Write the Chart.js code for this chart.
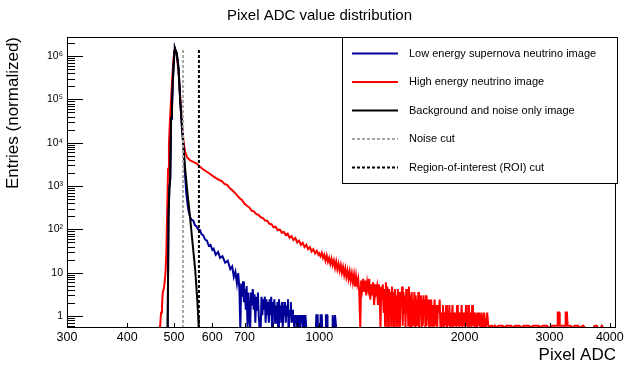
<!DOCTYPE html>
<html>
<head>
<meta charset="utf-8">
<script src="https://cdn.jsdelivr.net/npm/chart.js@4/dist/chart.umd.min.js"></script>
<style>
  html, body { margin: 0; padding: 0; background: #fff; }
</style>
</head>
<body>
<canvas id="c" width="639" height="368"></canvas>
<script>
// values (Pixel ADC, normalized entries); 0 = empty bin
const redPts = [
  [300,0],[466,0],[468,0.6],[470,1.2],[472,1.8],[474,3.6],[476,4.2],[478,6],[480,10],[482,30],
  [484,300],[486,2500],[488,9000],[490,2.8e4],[493,1e5],[496,3.5e5],[499,9e5],[502,1.5e6],
  [505,1.25e6],[508,8e5],[511,4e5],[514,1.6e5],[517,6e4],[520,2.4e4],[523,1.1e4],[527,6200],
  [532,4600],[540,3900],[548,3600],[557,3300],[566,2800],[575,2400],[590,2000],[604,1650],
  [612,1500],[620,1380],[628,1300],[636,1120],[644,1060],[652,900],[660,800],[668,700],[676,610],
  [684,520],[692,470],[700,390],[708,350],[716,320],[724,270],[732,260],[740,225],[748,218],
  [756,190],[764,182],[772,160],[780,158],[788,135],[796,132],[804,112],[812,115],[820,96],
  [828,100],[836,84],[844,88],[852,74],[860,80],[868,64],[876,70],[884,57],[892,63],[900,50],
  [908,55],[916,44],[924,49],[932,39],[940,44],[948,35],[956,39],[964,31],[972,35],[980,28],
  [988,32],[996,26],[1000,28],[1006,24],[1012,29],[1018,22],[1024,26],[1030,19],[1036,25],
  [1042,18],[1048,22],[1054,16],[1060,21],[1066,15],[1072,19],[1078,13],[1084,18],[1090,12],
  [1096,16],[1102,11],[1108,15],[1114,10],[1120,13.5],[1126,9],[1132,12.5],[1138,8],[1144,11],
  [1150,7.2],[1156,10.5],[1162,6.6],[1168,9.6],[1174,6],[1180,9],[1186,4.8],[1192,8.4],[1198,5.4],
  [1204,7.2],[1210,3.6],[1216,0],[1221,6.6],[1227,4.2],[1233,7.2],[1239,3.6],[1245,6.6],[1251,3],
  [1257,6],[1263,4.2],[1269,7.2],[1275,2.4],[1281,5.4],[1287,3],[1293,6],[1299,1.8],[1305,5.4],
  [1311,3.6],[1317,4.8],[1323,1.8],[1329,5.4],[1334,3],[1339,0],[1344,4.8],[1349,2.4],[1354,5.4],
  [1359,1.2],[1364,4.2],[1369,0.6],[1374,6],[1379,1.8],[1384,4.8],[1389,0],[1394,4.2],[1399,2.4],
  [1404,3.6],[1409,0.6],[1414,4.8],[1419,1.2],[1424,3.6],[1429,0],[1434,4.2],[1439,1.8],[1444,3],
  [1449,0.6],[1454,4.2],[1459,1.2],[1464,3.6],[1469,0],[1474,3],[1479,1.8],[1484,4.8],[1489,0.6],
  [1494,3.6],[1499,1.2],[1504,3],[1509,0],[1514,4.2],[1519,1.2],[1524,2.4],[1529,0.6],[1534,4.8],
  [1539,1.2],[1544,3],[1549,0],[1554,3.6],[1559,1.2],[1564,2.4],[1569,0.6],[1574,3.6],[1579,0],
  [1584,3],[1589,1.2],[1594,2.4],[1599,0.6],[1604,3.6],[1609,0],[1614,2.4],[1619,1.2],[1624,3],
  [1629,0],[1634,2.4],[1639,0.6],[1644,3],[1649,1.2],[1654,2.4],[1659,0],[1664,3],[1669,0.6],
  [1674,2.4],[1679,1.2],[1684,1.8],[1689,0],[1694,2.4],[1699,0.6],[1706,2.4],[1713,0.6],[1720,1.8],
  [1727,0],[1734,2.4],[1741,0.6],[1748,1.8],[1755,0],[1762,1.8],[1769,1.2],[1776,2.4],[1783,0],
  [1790,1.2],[1797,0.6],[1804,1.8],[1811,0],[1818,1.2],[1825,0.6],[1832,1.8],[1839,0],[1846,1.2],
  [1853,0.6],[1860,1.8],[1867,0],[1874,1.2],[1881,0.6],[1888,1.8],[1895,0],[1902,1.2],[1909,0.6],
  [1916,1.2],[1923,0],[1930,1.8],[1937,0.6],[1944,1.2],[1951,0],[1958,1.2],[1965,0.6],[1972,1.8],
  [1979,0],[1986,1.2],[1993,0.6],[2000,1.2],[2007,0],[2014,1.8],[2021,0.6],[2028,1.2],[2035,0],
  [2042,1.8],[2049,0.6],[2058,1.2],[2066,0],[2074,1.8],[2082,0.6],[2090,1.2],[2098,0],[2106,1.2],
  [2114,0.6],[2122,0],[2130,1.2],[2138,0.6],[2146,1.2],[2154,0],[2162,0.6],[2170,1.2],[2178,0],
  [2186,0.6],[2196,1.2],[2206,0],[2216,0.6],[2228,1.2],[2240,0.6],[2252,0],[2264,0.6],[2280,0.6],
  [2292,0],[2310,0.6],[2325,0],[2350,0.6],[2400,0.6],[2420,0],[2440,0.6],[2500,0.6],[2520,0],
  [2545,0.6],[2600,0.6],[2625,0],[2650,0.6],[2720,0.6],[2745,0],[2770,0.6],[2850,0.6],[2880,0],
  [2900,0.6],[2960,0.6],[2990,0],[3030,0.6],[3110,0.6],[3120,1.2],[3140,1.2],[3150,0.6],[3230,0.6],
  [3240,1.2],[3260,1.2],[3270,0.6],[3320,0.6],[3350,0],[3380,0.6],[3440,0.6],[3470,0],[3520,0.6],
  [3560,0],[3700,0],[3720,0.6],[3760,0.6],[3780,0],[3830,0],[3850,0.6],[3880,0],[4120,0]
];
const bluePts = [
  [300,0],[485,0],[487,200],[489,900],[491,1500],[493,3.6e4],[495,6e4],[497,2.5e5],[499,6e5],
  [501,1.3e6],[502,1.5e6],[504,1.3e6],[506,1.2e6],[508,9e5],[511,5e5],[515,9e4],[519,2.5e4],
  [523,8000],[527,1800],[530,700],[533,400],[536,260],[540,190],[544,165],[548,160],[552,125],
  [556,118],[561,100],[566,97],[570,78],[575,72],[580,58],[585,55],[590,42],[595,44],[600,34],
  [604,36],[610,26],[617,30],[623,22],[630,24],[638,17],[646,19],[654,12],[660,14],[665,8],
  [670,10.5],[675,5.6],[679,9.8],[683,4.2],[686,0],[689,5.6],[692,2.8],[695,6.3],[698,2.1],
  [701,4.2],[704,1.4],[707,4.9],[710,0],[713,3.5],[716,1.05],[719,0],[722,3.5],[725,1.75],
  [728,4.2],[731,1.4],[734,3.2],[737,0.7],[740,2.8],[743,1.4],[746,3.5],[749,1.05],[752,0],
  [756,0],[759,2.8],[762,1.05],[765,2.45],[768,1.4],[771,2.8],[774,0.7],[777,2.45],[780,1.05],
  [783,2.1],[786,0.7],[789,2.45],[792,1.05],[795,2.8],[798,0],[801,2.1],[804,1.05],[807,2.45],
  [810,0.7],[813,1.75],[816,1.05],[819,2.1],[822,0.35],[825,2.45],[828,1.05],[831,1.75],[834,0.7],
  [837,2.1],[840,0],[843,1.75],[846,1.05],[849,2.1],[852,0.7],[855,1.75],[858,1.05],[861,2.45],
  [864,0.35],[867,1.4],[870,1.05],[873,2.1],[876,0.7],[879,1.4],[882,0.7],[885,1.05],[888,0.35],
  [891,1.05],[894,0.7],[897,1.05],[900,0],[903,1.05],[906,0.7],[909,1.05],[912,0],[915,1.05],
  [918,0.7],[921,1.05],[924,0],[928,1.05],[932,0.35],[936,1.05],[940,0],[984,0],[986,1.05],
  [992,1.05],[994,0],[1004,0],[1006,1.05],[1012,1.05],[1014,0],[1030,0],[1032,1.05],[1038,1.05],
  [1040,0],[1064,0],[1066,1.05],[1070,0],[1076,0],[1078,1.05],[1082,1.05],[1084,0],[4120,0]
];
const blackPts = [
  [300,0],[485,0],[487,200],[489,900],[491,1500],[493,3.6e4],[495,6e4],[497,2.5e5],[499,6e5],
  [501,1.3e6],[502,1.5e6],[504,1.3e6],[506,1.2e6],[508,9e5],[511,5e5],[515,9e4],[519,2.5e4],
  [523,8000],[527,2600],[533,700],[540,180],[546,50],[550,22],[553,12],[556,5],[559,2.1],
  [561,1],[562,0.6],[563,0],[4120,0]
];
const noiseCut = 522;
const roiCut = 563;
const cutTop = 1.45e6;

const xTickValues = [300, 400, 500, 600, 700, 800, 900, 1000, 2000, 3000, 4000];
const xTickLabels = ['300', '400', '500', '600', '700', '', '', '1000', '2000', '3000', '4000'];
const yTickValues = [1, 10, 100, 1000, 10000, 100000, 1000000];
const yTickLabels = ['1', '10', '10\u00b2', '10\u00b3', '10\u2074', '10\u2075', '10\u2076'];

const X_MIN = 300, X_MAX = 4120;
const Y_MIN = 0.53, Y_MAX = 2.75e6;
const FONT = "'Liberation Sans', Arial, Helvetica, sans-serif";

// empty bins sit on the bottom of the frame, like ROOT draws them
const toXY = pts => pts.map(p => ({ x: p[0], y: p[1] > 0 ? p[1] : Y_MIN }));

const frameTicks = {
  id: 'frameTicks',
  afterDatasetsDraw(chart) {
    const { ctx, chartArea: a, scales: { x, y } } = chart;
    ctx.save();
    ctx.strokeStyle = '#000';
    ctx.lineWidth = 1;
    ctx.beginPath();
    xTickValues.forEach(v => {
      const px = Math.round(x.getPixelForValue(v)) + 0.5;
      if (px <= a.left + 1 || px >= a.right - 1) return;
      ctx.moveTo(px, a.bottom);
      ctx.lineTo(px, a.bottom - 5);
    });
    for (let d = 0.1; d <= 1e6; d *= 10) {
      for (let m = 1; m <= 9; m++) {
        const v = m * d;
        if (v < Y_MIN || v > Y_MAX) continue;
        const py = Math.round(y.getPixelForValue(v)) + 0.5;
        ctx.moveTo(a.left, py);
        ctx.lineTo(a.left + (m === 1 ? 16 : 8), py);
      }
    }
    ctx.stroke();
    ctx.strokeRect(a.left + 0.5, a.top + 0.5, a.right - a.left - 1, a.bottom - a.top - 1);
    ctx.restore();
  }
};

const legendBox = {
  id: 'legendBox',
  afterDraw(chart) {
    const { ctx } = chart;
    ctx.save();
    ctx.fillStyle = '#fff';
    ctx.fillRect(342.5, 37.5, 275, 146);
    ctx.strokeStyle = '#000';
    ctx.lineWidth = 1;
    ctx.strokeRect(342.5, 37.5, 275, 146);
    ctx.font = '11px ' + FONT;
    ctx.textBaseline = 'middle';
    chart.data.datasets.forEach((ds, i) => {
      const yy = 53.5 + i * 28.5;
      ctx.strokeStyle = ds.borderColor;
      ctx.lineWidth = ds.borderWidth;
      ctx.setLineDash(ds.borderDash || []);
      ctx.beginPath();
      ctx.moveTo(352, yy);
      ctx.lineTo(398, yy);
      ctx.stroke();
      ctx.setLineDash([]);
      ctx.fillStyle = '#000';
      ctx.fillText(ds.label, 409, yy);
    });
    ctx.restore();
  }
};

new Chart(document.getElementById('c'), {
  type: 'line',
  data: {
    datasets: [
      { label: 'Low energy supernova neutrino image', data: toXY(bluePts), borderColor: '#000099', borderWidth: 2, order: 3 },
      { label: 'High energy neutrino image', data: toXY(redPts), borderColor: '#ff0000', borderWidth: 2, order: 4 },
      { label: 'Background and noise only image', data: toXY(blackPts), borderColor: '#000000', borderWidth: 2, order: 2 },
      { label: 'Noise cut', data: [{ x: noiseCut, y: Y_MIN }, { x: noiseCut, y: cutTop }], borderColor: '#a6a6a6', borderWidth: 2, borderDash: [3, 2], order: 1 },
      { label: 'Region-of-interest (ROI) cut', data: [{ x: roiCut, y: Y_MIN }, { x: roiCut, y: cutTop }], borderColor: '#000000', borderWidth: 2, borderDash: [3, 2], order: 0 }
    ]
  },
  options: {
    responsive: false,
    animation: false,
    devicePixelRatio: 1,
    layout: { padding: 0 },
    elements: { point: { radius: 0 }, line: { tension: 0 } },
    plugins: {
      legend: { display: false },
      tooltip: { enabled: false },
      title: {
        display: true,
        text: 'Pixel ADC value distribution',
        color: '#000',
        font: { family: FONT, size: 15, weight: 'normal' },
        padding: { top: 7, bottom: 12 }
      }
    },
    scales: {
      x: {
        type: 'logarithmic',
        min: X_MIN,
        max: X_MAX,
        bounds: 'data',
        grid: { display: false, drawTicks: false },
        border: { display: false },
        afterBuildTicks: s => { s.ticks = xTickValues.map(v => ({ value: v })); },
        afterFit: s => { s.height = 40; },
        ticks: {
          autoSkip: false,
          maxRotation: 0,
          padding: 2,
          color: '#000',
          font: { family: FONT, size: 12.5 },
          callback: (v, i) => xTickLabels[i]
        },
        title: {
          display: true,
          text: 'Pixel ADC',
          align: 'end',
          color: '#000',
          font: { family: FONT, size: 17 },
          padding: { top: 0, bottom: 2 }
        }
      },
      y: {
        type: 'logarithmic',
        min: Y_MIN,
        max: Y_MAX,
        bounds: 'data',
        grid: { display: false, drawTicks: false },
        border: { display: false },
        afterBuildTicks: s => { s.ticks = yTickValues.map(v => ({ value: v })); },
        afterFit: s => { s.width = 67; },
        ticks: {
          autoSkip: false,
          padding: 4,
          color: '#000',
          font: { family: FONT, size: 10.5 },
          callback: (v, i) => yTickLabels[i]
        },
        title: {
          display: true,
          text: 'Entries (normalized)',
          align: 'end',
          color: '#000',
          font: { family: FONT, size: 17 },
          padding: { top: 3, bottom: 0 }
        }
      },
      // empty right margin, so the title stays centred on the whole canvas
      yRight: {
        type: 'linear',
        position: 'right',
        min: 0,
        max: 1,
        grid: { display: false, drawTicks: false },
        border: { display: false },
        ticks: { display: false },
        afterFit: s => { s.width = 23; }
      }
    }
  },
  plugins: [frameTicks, legendBox]
});
</script>
</body>
</html>
